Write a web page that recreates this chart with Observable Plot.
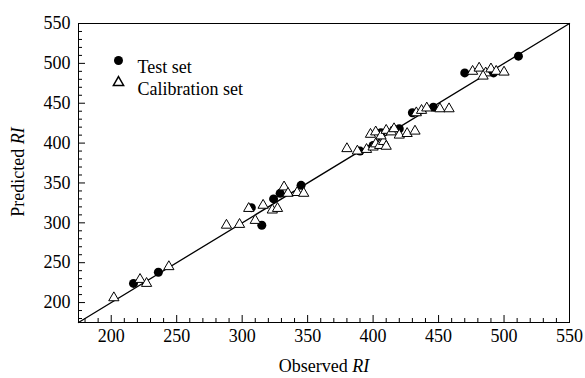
<!DOCTYPE html>
<html>
<head>
<meta charset="utf-8">
<script src="https://cdn.jsdelivr.net/npm/d3@7"></script>
<script src="https://cdn.jsdelivr.net/npm/@observablehq/plot@0.6"></script>
<style>
  html, body { margin: 0; padding: 0; background: #fff; }
  #chart { width: 585px; height: 378px; }
</style>
</head>
<body>
<div id="chart"></div>
<script>
// Test set (filled circles)
const testObserved  = [217, 236, 307, 315, 324, 329, 345, 390, 400, 406, 420, 430, 446, 470, 492, 511];
const testPredicted = [224, 238, 319, 297, 330, 337, 347, 390, 397, 413, 418, 438, 445, 488, 488, 509];
// Calibration set (open triangles)
const calObserved  = [202, 222, 227, 244,
  288, 298, 305, 310, 316, 323, 327, 332, 335, 342, 347,
  380, 388, 395, 400, 402, 405, 408, 410,
  398, 402, 406, 410, 414, 416, 420, 426, 432,
  433, 437, 441, 451, 458,
  476, 481, 486, 490, 494, 500, 484];
const calPredicted = [206, 229, 224, 245,
  297, 298, 318, 303, 322, 316, 318, 345, 337, 338, 337,
  393, 390, 392, 395, 399, 397, 402, 396,
  411, 414, 409, 416, 414, 418, 410, 412, 415,
  438, 441, 444, 443, 443,
  490, 494, 488, 493, 490, 489, 484];
const majorTicks = [200, 250, 300, 350, 400, 450, 500, 550];
const minorTicks = d3.range(180, 550, 10).filter(v => v % 50 !== 0);
const domain = [175, 550];
const seriesNames = ["Test set", "Calibration set"];

const test = testObserved.map((x, i) => ({x, y: testPredicted[i]}));
const cal = calObserved.map((x, i) => ({x, y: calPredicted[i]}));
const diag = domain.map(v => ({x: v, y: v}));

const font = "'Liberation Serif', 'Times New Roman', serif";

const svg = Plot.plot({
  width: 585,
  height: 378,
  marginLeft: 78,
  marginRight: 16,
  marginTop: 23,
  marginBottom: 56,
  style: {fontFamily: font, fontSize: "18px", color: "#000", background: "#fff"},
  x: {domain, label: null},
  y: {domain, label: null},
  marks: [
    Plot.frame({stroke: "#000", strokeWidth: 1}),
    Plot.axisX({ticks: minorTicks, tickSize: -4, tickFormat: () => "", strokeWidth: 1}),
    Plot.axisX({ticks: majorTicks, tickSize: -7, tickFormat: () => "", strokeWidth: 1}),
    Plot.axisX({ticks: majorTicks, tickSize: 0, tickPadding: 7, fontSize: 18}),
    Plot.axisY({ticks: minorTicks, tickSize: -4, tickFormat: () => "", strokeWidth: 1}),
    Plot.axisY({ticks: majorTicks, tickSize: -7, tickFormat: () => "", strokeWidth: 1}),
    Plot.axisY({ticks: majorTicks, tickSize: 0, tickPadding: 8, fontSize: 18}),
    Plot.line(diag, {x: "x", y: "y", stroke: "#000", strokeWidth: 1.3}),
    Plot.dot(test, {x: "x", y: "y", r: 4.5, fill: "#000", stroke: "none"}),
    Plot.dot(cal, {x: "x", y: "y", r: 3.8, symbol: "triangle", fill: "#fff", stroke: "#000", strokeWidth: 1}),
    // legend
    Plot.dot([seriesNames[0]], {frameAnchor: "top-left", dx: 40, dy: 37, r: 4.5, fill: "#000"}),
    Plot.text([seriesNames[0]], {frameAnchor: "top-left", dx: 59, dy: 37, text: d => d, textAnchor: "start", fontSize: 18}),
    Plot.dot([seriesNames[1]], {frameAnchor: "top-left", dx: 40, dy: 59, r: 3.8, symbol: "triangle", fill: "#fff", stroke: "#000"}),
    Plot.text([seriesNames[1]], {frameAnchor: "top-left", dx: 59, dy: 59, text: d => d, textAnchor: "start", fontSize: 18})
  ]
});

// Axis titles with italic "RI"
const s = d3.select(svg);
const xt = s.append("text")
  .attr("x", 324).attr("y", 372)
  .attr("text-anchor", "middle")
  .attr("font-size", 18).attr("fill", "#000");
xt.append("tspan").text("Observed ");
xt.append("tspan").attr("font-style", "italic").text("RI");

const yt = s.append("text")
  .attr("transform", "translate(24,172) rotate(-90)")
  .attr("text-anchor", "middle")
  .attr("font-size", 18).attr("fill", "#000");
yt.append("tspan").text("Predicted ");
yt.append("tspan").attr("font-style", "italic").text("RI");

// force the serif family on every text element and group
s.selectAll("g, text, tspan")
  .attr("font-family", font)
  .style("font-family", font, "important");
s.style("font-family", font, "important");

document.getElementById("chart").appendChild(svg);
</script>
</body>
</html>
